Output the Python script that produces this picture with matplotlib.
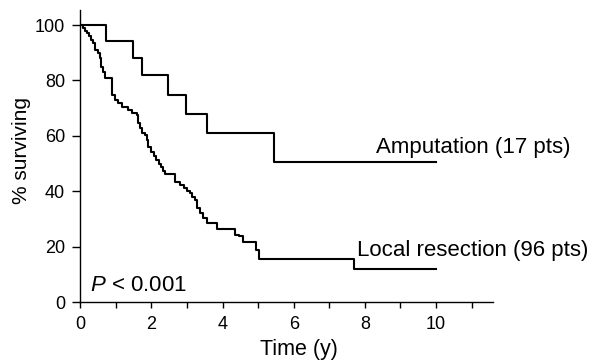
import matplotlib
matplotlib.use("Agg")
import matplotlib.pyplot as plt

plt.rcParams['font.family'] = ['Liberation Sans', 'DejaVu Sans']
plt.rcParams['mathtext.fontset'] = 'custom'
plt.rcParams['mathtext.it'] = 'Liberation Sans:italic'
plt.rcParams['mathtext.rm'] = 'Liberation Sans'

# Kaplan-Meier curves (time in years, % surviving)
amp_time = [0, 0.71, 1.47, 1.72, 2.45, 2.97, 3.55, 5.45, 10]
amp_surv = [100, 94.1, 88.2, 81.8, 74.8, 68.0, 61.1, 50.6, 50.6]

local_time = [0, 0.08, 0.13, 0.19, 0.25, 0.31, 0.36, 0.41, 0.50, 0.55, 0.57,
              0.64, 0.69, 0.88, 0.90, 0.97, 1.06, 1.16, 1.35, 1.44, 1.58,
              1.63, 1.68, 1.72, 1.81, 1.86, 1.91, 2.00, 2.07, 2.14, 2.20,
              2.26, 2.32, 2.38, 2.66, 2.80, 2.90, 3.00, 3.08, 3.15, 3.22,
              3.27, 3.36, 3.45, 3.55, 3.83, 4.35, 4.45, 4.58, 4.94, 5.02,
              7.70, 10]
local_surv = [100, 99.0, 98.0, 97.0, 96.0, 94.6, 93.4, 91.0, 89.8, 88.0, 84.9,
              83.1, 80.8, 77.7, 74.7, 72.9, 71.7, 70.5, 69.3, 68.1, 67.5,
              64.5, 62.7, 60.9, 60.3, 58.5, 56.1, 54.3, 52.8, 51.3, 50.0,
              48.6, 47.4, 46.4, 43.4, 42.2, 41.0, 40.0, 39.2, 38.0, 36.8,
              33.8, 32.0, 30.2, 28.4, 26.2, 24.2, 23.8, 21.8, 18.8, 15.7,
              11.8, 11.8]

x_major = [0, 2, 4, 6, 8, 10]
x_minor = [1, 3, 5, 7, 9, 11]
y_ticks = [0, 20, 40, 60, 80, 100]

fig = plt.figure(figsize=(5.91, 3.6), dpi=100)
ax = fig.add_axes([0.136, 0.161, 0.698, 0.811])

ax.step(amp_time, amp_surv, where='post', color='black', lw=1.5)
ax.step(local_time, local_surv, where='post', color='black', lw=1.5)

ax.text(8.31, 55.8, 'Amputation (17 pts)', fontsize=16, va='center', ha='left', clip_on=False)
ax.text(7.78, 18.6, 'Local resection (96 pts)', fontsize=16, va='center', ha='left', clip_on=False)
ax.text(0.27, 6.0, '$P$ < 0.001', fontsize=16, va='center', ha='left')

ax.set_xlim(0, 11.6)
ax.set_ylim(0, 105.4)
ax.set_xticks(x_major)
ax.set_xticks(x_minor, minor=True)
ax.set_yticks(y_ticks)
ax.tick_params(which='both', direction='out', length=4, width=1, labelsize=13, color='black')
ax.tick_params(axis='x', pad=6)
ax.tick_params(axis='y', length=6, pad=5)

for side in ['top', 'right']:
    ax.spines[side].set_visible(False)
for side in ['left', 'bottom']:
    ax.spines[side].set_linewidth(1.0)

ax.set_xlabel('Time (y)', fontsize=15.5)
ax.xaxis.set_label_coords(0.53, -0.125)
ax.set_ylabel('% surviving', fontsize=15)
ax.yaxis.set_label_coords(-0.12, 0.52)

fig.savefig('out.png', dpi=100)
